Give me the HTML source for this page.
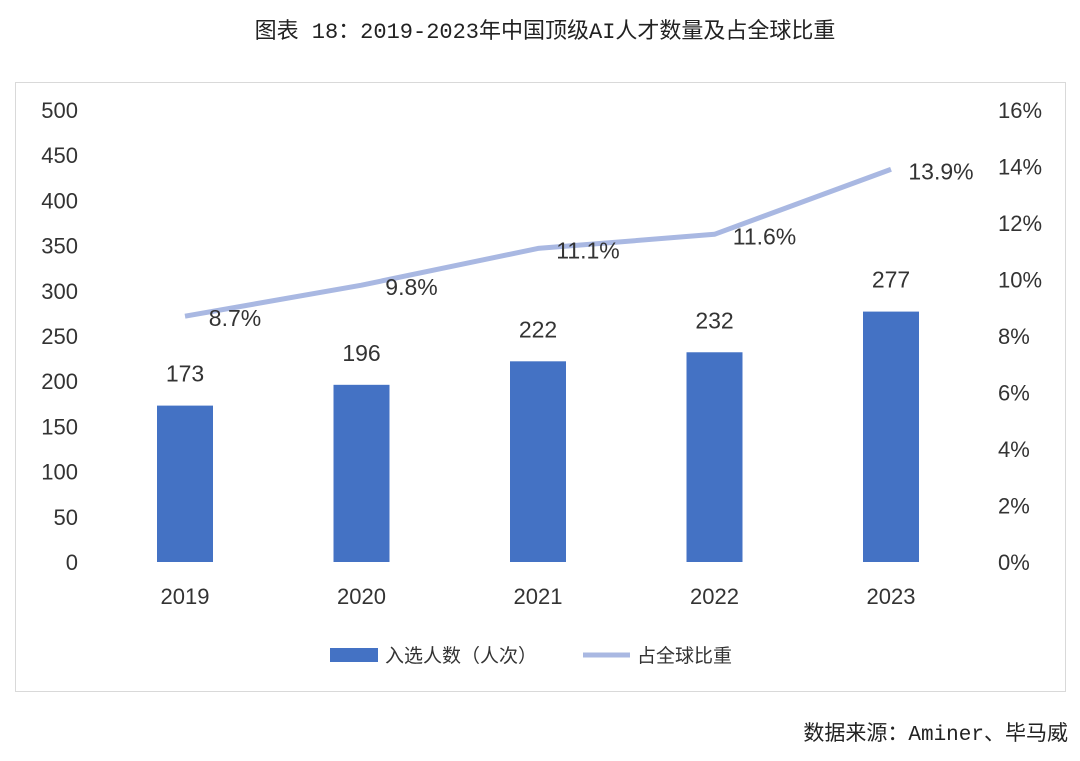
<!DOCTYPE html>
<html><head><meta charset="utf-8">
<style>
body{margin:0;background:#fff;width:1080px;height:756px;overflow:hidden;font-family:"Liberation Sans","Noto Sans CJK SC",sans-serif;}
</style></head>
<body>
<svg id="chart" width="1080" height="756" xmlns="http://www.w3.org/2000/svg">
<text x="545" y="38" text-anchor="middle" font-size="22" fill="#222" font-family="Liberation Mono,'Noto Sans CJK SC',monospace">图表 18：2019-2023年中国顶级AI人才数量及占全球比重</text>
<rect x="15.5" y="82.5" width="1050" height="609" fill="none" stroke="#d9d9d9"/>
<g id="g"></g>
<rect x="330" y="648" width="48" height="14" fill="#4472C4"/>
<text x="385" y="662" font-size="19" fill="#333">入选人数（人次）</text>
<line x1="583" y1="655" x2="630" y2="655" stroke="#a9b8e2" stroke-width="5"/>
<text x="637" y="662" font-size="19" fill="#333">占全球比重</text>
<text x="1068" y="740" text-anchor="end" font-size="21" fill="#222" font-family="Liberation Mono,'Noto Sans CJK SC',monospace">数据来源：Aminer、毕马威</text>
</svg>
<script>
const categories=["2019","2020","2021","2022","2023"];
const talents=[173,196,222,232,277];
const shares=[8.7,9.8,11.1,11.6,13.9];
const leftTicks=[0,50,100,150,200,250,300,350,400,450,500];
const rightTicks=[0,2,4,6,8,10,12,14,16];
const NS="http://www.w3.org/2000/svg";
const g=document.getElementById('g');
const y0=562,yTop=110;
const yL=v=>y0-(v/500)*(y0-yTop);
const yR=v=>y0-(v/16)*(y0-yTop);
const xC=i=>185+i*176.5;
function mk(t,a,txt){const e=document.createElementNS(NS,t);for(const k in a)e.setAttribute(k,a[k]);if(txt!==undefined)e.textContent=txt;g.appendChild(e);return e;}
leftTicks.forEach(v=>{const e=mk('text',{x:78,y:yL(v)+8,'text-anchor':'end','font-size':22,fill:'#333'},v);

});
rightTicks.forEach(v=>{const e=mk('text',{x:998,y:yR(v)+8,'font-size':22,fill:'#333'},v+'%');

});
categories.forEach((c,i)=>{
const b=mk('rect',{x:xC(i)-28,y:yL(talents[i]),width:56,height:y0-yL(talents[i]),fill:'#4472C4'});


const l=mk('text',{x:xC(i),y:yL(talents[i])-24,'text-anchor':'middle','font-size':23,fill:'#333'},talents[i]);


const x=mk('text',{x:xC(i),y:604,'text-anchor':'middle','font-size':22,fill:'#333'},c);


});
const pts=shares.map((s,i)=>xC(i)+','+yR(s)).join(' ');
const pl=mk('polyline',{points:pts,fill:'none',stroke:'#a9b8e2','stroke-width':5,'stroke-linejoin':'round'});


shares.forEach((s,i)=>{
const t=mk('text',{x:xC(i)+50,y:yR(s)+10,'text-anchor':'middle','font-size':23,fill:'#333'},s.toFixed(1)+'%');


});
</script>
</body></html>
